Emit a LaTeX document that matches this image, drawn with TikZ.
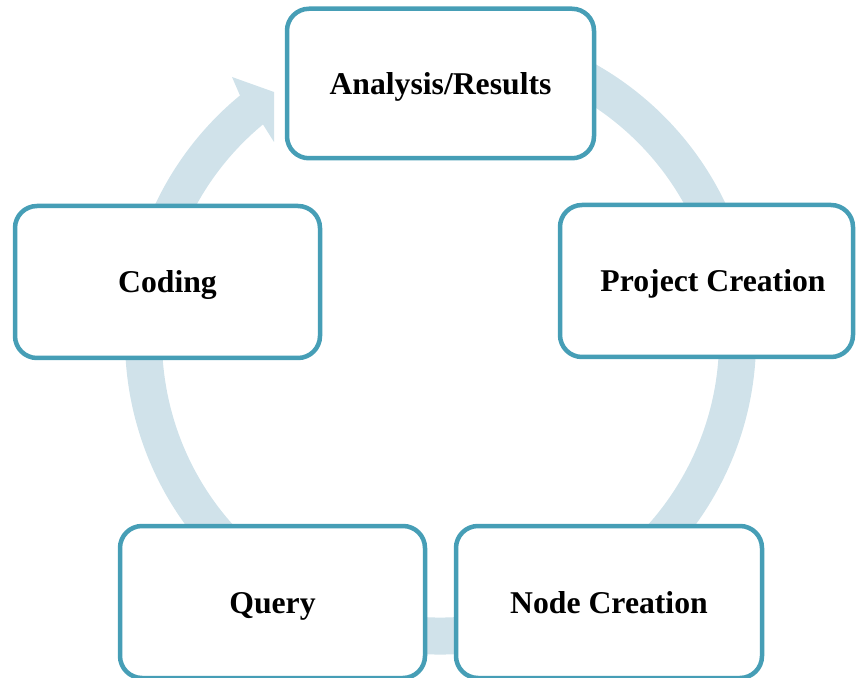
\documentclass[tikz,border=0pt]{standalone}
\usepackage{fontspec}
\setmainfont{Liberation Serif}
\usetikzlibrary{calc}
\definecolor{ringblue}{HTML}{D0E2EA}
\definecolor{boxteal}{HTML}{469EB6}
\begin{document}
\begin{tikzpicture}[x=0.5pt,y=-0.5pt,
  stagebox/.style={draw=boxteal, line width=2.25pt, fill=white,
    rounded corners=11pt, inner sep=0pt, outer sep=0pt,
    text height=11pt, text depth=0pt,
    font=\fontsize{15.85}{19}\selectfont\bfseries},
  stagelabel/.style={inner sep=0pt, text height=11pt, text depth=0pt,
    font=\fontsize{15.85}{19}\selectfont\bfseries},
  cyclering/.style={draw=ringblue, line width=18.5pt}]
\useasboundingbox (0,0) rectangle (856,678);

% the cycle ring with its arrowhead
\coordinate (c) at (440.5,339);
\draw[cyclering] ($(c)+(260:297)$) arc[start angle=260, end angle=591.5, radius=297];
\fill[ringblue] (240,95.5) -- (232,77) -- (274,92) -- (274,142) -- (263,124.5) -- cycle;

% the five stages
\node[stagebox, minimum width=153.5pt, minimum height=74.75pt] (ana) at (440.5,83.5) {Analysis/Results};
\node[stagebox, minimum width=146.5pt, minimum height=76pt] (proj) at (706.5,281) {};
\node[stagelabel] (projtext) at (713,281) {Project Creation};
\node[stagebox, minimum width=152.5pt, minimum height=76pt] (code) at (167.5,282) {Coding};
\node[stagebox, minimum width=152.5pt, minimum height=76pt] (query) at (272.5,602) {Query};
\node[stagebox, minimum width=153pt, minimum height=76pt] (nodec) at (609,602) {Node Creation};
\end{tikzpicture}
\end{document}
